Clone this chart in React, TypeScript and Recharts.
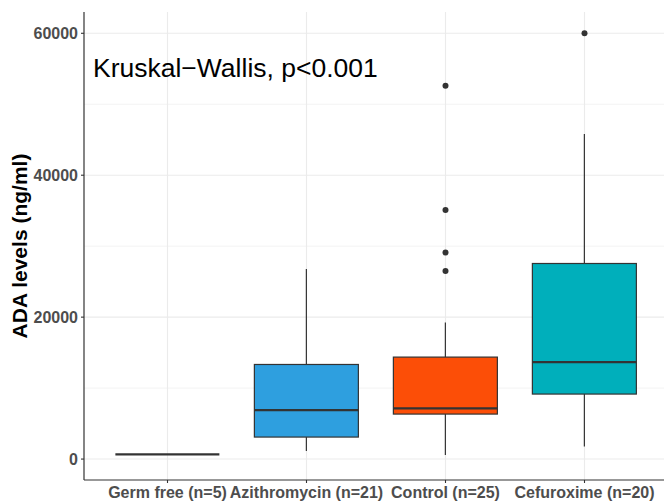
import React from "react";
import {
  ComposedChart,
  Bar,
  Line,
  XAxis,
  YAxis,
  CartesianGrid,
} from "recharts";

const categories = [
  "Germ free (n=5)",
  "Azithromycin (n=21)",
  "Control (n=25)",
  "Cefuroxime (n=20)",
];
const whiskerLow = [650, 1130, 560, 1780];
const lowerQuartile = [650, 3100, 6340, 9160];
const medians = [650, 6900, 7130, 13670];
const upperQuartile = [650, 13330, 14370, 27560];
const whiskerHigh = [650, 26770, 19250, 45800];
const outliers: number[][] = [[], [], [26500, 29100, 35100, 52600], [60000]];
const boxColors = ["#E7B800", "#2E9FDF", "#FC4E07", "#00AFBB"];
const yTicks = [0, 20000, 40000, 60000];
const minorTicks = [10000, 30000, 50000];

const FONT = "'Liberation Sans', Arial, Helvetica, sans-serif";
const INK = "#333333";

const data = categories.map((name, i) => ({
  name,
  lo: whiskerLow[i],
  q1: lowerQuartile[i],
  med: medians[i],
  q3: upperQuartile[i],
  hi: whiskerHigh[i],
  fill: boxColors[i],
  o1: outliers[i][0] ?? null,
  o2: outliers[i][1] ?? null,
  o3: outliers[i][2] ?? null,
  o4: outliers[i][3] ?? null,
}));

// one range bar per group spans the whisker extent; the box, median and
// whiskers are placed inside it using the bar's own pixel scale
function BoxShape(props: any) {
  const { x, y, width, height, payload } = props;
  if (x == null || y == null) return null;
  const top = Math.min(y, y + (height || 0));
  const h = Math.abs(height || 0);
  const span = payload.hi - payload.lo;
  const py = (v: number) => (span > 0 ? top + (h * (payload.hi - v)) / span : top);
  const cx = x + width / 2;
  const yQ3 = py(payload.q3);
  const yQ1 = py(payload.q1);
  const yMed = py(payload.med);
  return (
    <g>
      <line x1={cx} x2={cx} y1={py(payload.hi)} y2={yQ3} stroke={INK} strokeWidth={1.2} />
      <line x1={cx} x2={cx} y1={yQ1} y2={py(payload.lo)} stroke={INK} strokeWidth={1.2} />
      <rect
        x={x}
        y={yQ3}
        width={width}
        height={Math.max(yQ1 - yQ3, 0)}
        fill={payload.fill}
        stroke={INK}
        strokeWidth={1.2}
      />
      <line x1={x} x2={x + width} y1={yMed} y2={yMed} stroke={INK} strokeWidth={2.3} />
    </g>
  );
}

const tickStyle = { fontSize: 16, fontWeight: "bold", fill: "#4d4d4d", fontFamily: FONT };

export default function App() {
  return (
    <div
      style={{
        position: "absolute",
        left: 0,
        top: 0,
        width: 664,
        height: 501,
        overflow: "hidden",
        background: "#fff",
        fontFamily: FONT,
      }}
    >
      <ComposedChart
        width={668}
        height={501}
        data={data}
        margin={{ top: 12, right: 0, bottom: 0, left: 0 }}
        barCategoryGap="12.5%"
      >
        <CartesianGrid
          horizontal
          vertical={false}
          horizontalValues={minorTicks}
          syncWithTicks
          stroke="#ebebeb"
          strokeWidth={0.6}
        />
        <CartesianGrid syncWithTicks stroke="#ebebeb" strokeWidth={1.1} />
        <XAxis
          dataKey="name"
          type="category"
          height={21}
          padding={{ left: 14, right: 14 }}
          tick={tickStyle}
          tickSize={3}
          tickMargin={4}
          interval={0}
          axisLine={{ stroke: INK, strokeWidth: 1.2 }}
          tickLine={{ stroke: INK, strokeWidth: 1.1 }}
        />
        <YAxis
          type="number"
          width={84}
          domain={[-2950, 63000]}
          allowDataOverflow
          ticks={yTicks}
          tick={tickStyle}
          tickSize={3}
          tickMargin={3}
          axisLine={{ stroke: INK, strokeWidth: 1.2 }}
          tickLine={{ stroke: INK, strokeWidth: 1.1 }}
          label={{
            content: (p: any) => {
              const vb = p.viewBox || {};
              const cy = (vb.y ?? 12) + (vb.height ?? 468) / 2;
              return (
                <text
                  x={19}
                  y={cy}
                  transform={`rotate(-90 19 ${cy})`}
                  textAnchor="middle"
                  dominantBaseline="central"
                  fontSize={21}
                  fontWeight="bold"
                  fill="#000"
                  fontFamily={FONT}
                >
                  ADA levels (ng/ml)
                </text>
              );
            },
          }}
        />
        <Bar
          dataKey={(d: any) => [d.lo, d.hi]}
          shape={<BoxShape />}
          isAnimationActive={false}
          legendType="none"
        />
        {["o1", "o2", "o3", "o4"].map((k) => (
          <Line
            key={k}
            dataKey={k}
            stroke="none"
            dot={{ r: 3, fill: INK, stroke: "none" }}
            activeDot={false}
            isAnimationActive={false}
            legendType="none"
          />
        ))}
      </ComposedChart>
      <div
        style={{
          position: "absolute",
          left: 93,
          top: 55,
          fontSize: 26.5,
          lineHeight: "26px",
          color: "#000",
          whiteSpace: "nowrap",
        }}
      >
        Kruskal−Wallis, p&lt;0.001
      </div>
    </div>
  );
}
